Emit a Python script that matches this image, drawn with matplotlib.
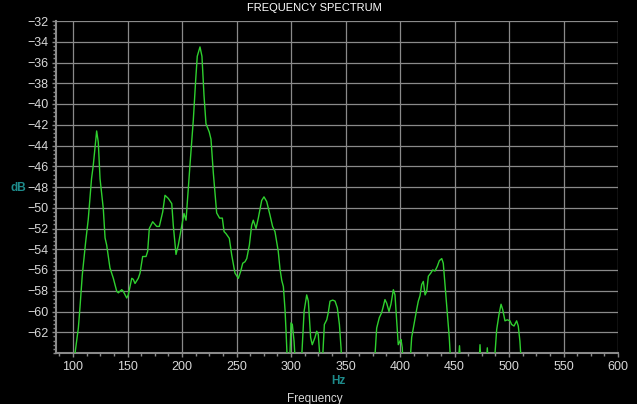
import matplotlib
matplotlib.use("Agg")
import matplotlib.pyplot as plt
from matplotlib.ticker import MultipleLocator

plt.rcParams['font.family'] = ['Liberation Sans', 'DejaVu Sans']

title = "FREQUENCY SPECTRUM"
y_label = "dB"
x_unit = "Hz"
x_caption = "Frequency"

freq_hz = [
    98, 101.5, 104.9, 106.4, 108.5, 111.5, 114, 117, 118.6, 121.7, 123.2, 124.8, 127.8,
    129.4, 130.9, 133.9, 137, 140.1, 141.6, 144.7, 146.1, 149.3, 150.7, 153.9, 155.3,
    156.9, 159.9, 161.5, 163.9, 167, 168.5, 170, 173.1, 176.8, 179.2, 182.3, 184.4,
    187.4, 190.6, 192, 194.5, 196.6, 198.8, 201.8, 203.7, 207.3, 210.4, 212.6, 214,
    216.5, 218.3, 220.2, 222, 225, 226.6, 228.7, 231.8, 234.5, 237, 238.6, 240.4,
    243.4, 245.6, 248.6, 251.7, 253.9, 255.7, 257.8, 259.4, 261.8, 263.9, 265.4,
    267.9, 270, 273.1, 275.2, 277.7, 280.7, 283.1, 285.3, 288.3, 289.9, 291.5, 293,
    294.5, 295.5, 296.5, 298.8, 300, 301.2, 302.8, 304, 309.5, 312, 314.4, 315.9,
    318, 319.5, 322, 323.6, 325, 326.6, 329, 330.6, 332.8, 334.2, 335.8, 338.3,
    340.4, 342.5, 344.4, 345.9, 347, 376, 378.6, 381, 383.2, 384.7, 386.2, 387.8,
    389.9, 391.7, 393.9, 395.4, 397, 398.4, 400, 400.9, 402.1, 403, 408.5, 410.7,
    412.8, 415.3, 416.8, 418.3, 419.9, 421.4, 423, 424.5, 426, 428.2, 430, 432.1,
    434.2, 436.1, 438.3, 439.7, 441.3, 443.4, 445.2, 446.5, 453.5, 454.6, 455.5,
    472.5, 473.4, 474.3, 479.3, 480.1, 480.9, 486.5, 488.7, 490.8, 492.7, 494.2,
    496.3, 498.4, 500.9, 502.4, 504.6, 507, 508.5, 510, 511, 513, 600,
]
level_db = [
    -66, -64.3, -61.6, -59.6, -56.5, -53.4, -51.1, -47.2, -45.9, -42.6, -43.7, -47.2, -50.1,
    -52.9, -53.6, -55.8, -56.8, -58.05, -58.2, -57.9, -58.05, -58.7, -58.4, -56.8, -56.9,
    -57.3, -56.8, -56.3, -54.7, -54.7, -54.2, -52.0, -51.35, -51.8, -51.8, -50.4, -48.8,
    -49.1, -49.6, -51.7, -54.5, -53.6, -52.3, -50.55, -51.2, -45.9, -41.5, -37.6, -35.4,
    -34.5, -35.4, -39.2, -41.9, -42.7, -43.4, -46.6, -50.5, -51.0, -51.0, -52.3, -52.5,
    -52.95, -54.55, -56.3, -56.8, -56.1, -55.35, -55.2, -54.9, -53.6, -51.7, -51.2,
    -52.0, -51.0, -49.3, -48.95, -49.4, -50.7, -51.8, -52.3, -54.2, -55.9, -57.0, -57.6,
    -59.8, -62.0, -64.5, -65, -61.1, -61.25, -62.85, -65, -65, -60.0, -58.4, -59.0,
    -62.5, -63.2, -62.5, -61.9, -62.2, -64.5, -64.5, -61.25, -60.8, -60.1, -59.0, -58.9,
    -59.0, -59.65, -61.25, -63.5, -66, -66, -61.6, -60.6, -60.1, -59.5, -58.85, -59.2,
    -60.0, -59.3, -57.9, -58.4, -60.9, -63.2, -62.85, -62.7, -63.5, -66, -66, -62.5,
    -61.25, -59.8, -59.0, -58.5, -57.4, -57.1, -58.4, -58.05, -56.6, -56.3, -56.0, -56.1,
    -55.65, -55.1, -54.9, -55.35, -57.4, -60.0, -62.5, -65, -65, -63.3, -65,
    -65, -63.2, -65, -65, -63.5, -65, -65, -61.75, -60.3, -59.3, -59.8,
    -60.9, -60.8, -60.9, -61.25, -61.4, -60.9, -61.4, -62.85, -64.5, -66, -66,
]

x_ticks = [100, 150, 200, 250, 300, 350, 400, 450, 500, 550, 600]
y_ticks = [-32, -34, -36, -38, -40, -42, -44, -46, -48, -50, -52, -54, -56, -58, -60, -62]

fig = plt.figure(figsize=(6.37, 4.04), dpi=100, facecolor='black')
ax = fig.add_axes([56/637, 1-353/404, (618-56)/637, (353-21)/404])
ax.set_facecolor('black')

grid_c = '#8a8a8a'
ax.plot(freq_hz, level_db, color='#2fd02f', lw=1.0, zorder=3)

ax.set_xlim(84.4, 600)
ax.set_ylim(-64, -32)
ax.set_xticks(x_ticks)
ax.set_yticks(y_ticks)
ax.xaxis.set_minor_locator(MultipleLocator(12.5))
ax.yaxis.set_minor_locator(MultipleLocator(0.4))
ax.grid(True, which='major', color=grid_c, lw=0.9, zorder=1)

for s in ['top', 'right']:
    ax.spines[s].set_visible(False)
ax.spines['left'].set_color(grid_c)
ax.spines['bottom'].set_color(grid_c)
ax.spines['left'].set_linewidth(1.5)
ax.spines['bottom'].set_linewidth(1.5)

ax.tick_params(axis='both', which='both', colors=grid_c, labelcolor='#d8d8d8',
               labelsize=9, direction='out')
ax.tick_params(axis='both', which='major', length=3, width=1)
ax.tick_params(axis='both', which='minor', length=2.5, width=1)
ax.tick_params(axis='y', which='major', pad=2.5)
ax.tick_params(axis='x', which='major', pad=3)

fig.text(314/637, 1-8/404, title, color='white', fontsize=8, ha='center', va='center')
fig.text(18/637, 1-188/404, y_label, color='#1e8c8c', fontsize=8.5, fontweight='bold',
         ha='center', va='center')
fig.text(338/637, 1-381/404, x_unit, color='#1e8c8c', fontsize=8.5, fontweight='bold',
         ha='center', va='center')
fig.text(315/637, 1-399/404, x_caption, color='#d8d8d8', fontsize=8.5,
         ha='center', va='center')

fig.savefig('out.png', dpi=100, facecolor='black')
